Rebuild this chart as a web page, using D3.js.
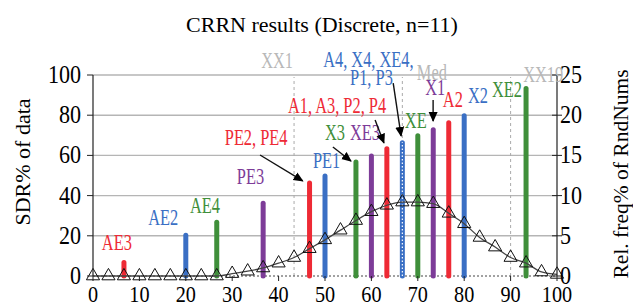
<!DOCTYPE html>
<html>
<head>
<meta charset="utf-8">
<script src="https://cdn.jsdelivr.net/npm/d3@7"></script>
<style>
  body { margin: 0; background: #fff; }
  text { font-family: "Liberation Serif", "Times New Roman", serif; }
</style>
</head>
<body>
<svg id="chart" width="633" height="306"></svg>
<script>
// bar positions (x, 0-100) and heights (SDR% of data)
const barX = [6.67, 20, 26.67, 36.67, 46.67, 50, 56.67, 60, 63.33, 66.67, 70, 73.33, 76.67, 80, 93.33];
const barValues = [8, 21.5, 28, 37.5, 47.5, 51, 58, 61, 64.5, 67.5, 71, 74, 77.5, 81, 94.5];
const barKinds = ["red", "blue", "green", "purple", "red", "blue", "green", "purple",
                  "red", "blueDot", "green", "purple", "red", "blue", "green"];

// relative frequency of random numbers (right axis), at x = i*100/30
const freqValues = [0, 0, 0, 0, 0, 0, 0, 0, 0, 0.3, 0.6, 1.0, 1.6, 2.3, 3.4, 4.5,
                    5.7, 6.9, 8.0, 8.8, 9.2, 9.2, 9.0, 7.8, 6.5, 4.8, 3.6, 2.3, 1.6, 0.5, 0.2];

const xTicks = [0, 10, 20, 30, 40, 50, 60, 70, 80, 90, 100];
const leftTicks = [0, 20, 40, 60, 80, 100];
const rightTicks = [0, 5, 10, 15, 20, 25];

// vertical reference lines
const refLines = [43.33, 66.67, 90];

// labels: text, colour, x, y (data units, left axis), anchor
const labels = [
    ["AE3", "red", 1.9, 12.9, "start"],
    ["AE2", "blue", 11.9, 25.4, "start"],
    ["AE4", "green", 20.9, 31.3, "start"],
    ["PE3", "purple", 31.0, 45.8, "start"],
    ["PE2, PE4", "red", 28.4, 65.2, "start"],
    ["PE1", "blue", 47.4, 53.7, "start"],
    ["X3", "green", 50.0, 67.7, "start"],
    ["XE3", "purple", 55.4, 67.7, "start"],
    ["A1, A3, P2, P4", "red", 42.0, 81.1, "start"],
    ["A4, X4, XE4,", "blue", 49.6, 104, "start"],
    ["P1, P3", "blue", 55.4, 95.0, "start"],
    ["XE", "green", 67.2, 73.6, "start"],
    ["X1", "purple", 71.6, 90.0, "start"],
    ["A2", "red", 75.4, 84.1, "start"],
    ["X2", "blue", 80.8, 86.1, "start"],
    ["XE2", "green", 86.0, 89.1, "start"],
    ["XX1", "gray", 43.1, 103.5, "end"],
    ["Med", "gray", 69.8, 97.5, "start"],
    ["XX19", "gray", 92.7, 96.5, "start"]
];

// arrows: x1, y1 -> x2, y2 (data units)
const arrows = [
    [36.0, 60.2, 45.2, 47.3],
    [51.7, 64.2, 55.6, 57.2],
    [60.8, 77.6, 62.7, 66.2],
    [64.7, 96.0, 66.4, 69.7],
    [73.3, 87.6, 73.3, 77.1]
];

const colors = {
    red: "#ee2a35", blue: "#3a6fc4", blueDot: "#3a6fc4",
    green: "#3f8f3a", purple: "#7d3c98", gray: "#b8b8b8"
};

const svg = d3.select("#chart");
const x = d3.scaleLinear().domain([0, 100]).range([93, 557]);
const yL = d3.scaleLinear().domain([0, 100]).range([276, 75]);
const yR = d3.scaleLinear().domain([0, 25]).range([276, 75]);

svg.append("defs").append("marker")
    .attr("id", "arrow")
    .attr("viewBox", "0 -5 10 10")
    .attr("refX", 9)
    .attr("markerWidth", 10)
    .attr("markerHeight", 10)
    .attr("markerUnits", "userSpaceOnUse")
    .attr("orient", "auto")
    .append("path")
    .attr("d", "M0,-4.5L10,0L0,4.5Z")
    .attr("fill", "#000");

// gridlines
svg.append("g").selectAll("line")
    .data(leftTicks.slice(1))
    .join("line")
    .attr("x1", x(0)).attr("x2", x(100))
    .attr("y1", d => yL(d)).attr("y2", d => yL(d))
    .attr("stroke", "#b5b5b5").attr("stroke-width", 1.4);

// dashed reference lines
svg.append("g").selectAll("line")
    .data(refLines)
    .join("line")
    .attr("x1", d => x(d)).attr("x2", d => x(d))
    .attr("y1", yL(0)).attr("y2", yL(99))
    .attr("stroke", "#aaa").attr("stroke-width", 1)
    .attr("stroke-dasharray", "3,3");

// baseline
svg.append("line")
    .attr("x1", x(0)).attr("x2", x(100))
    .attr("y1", yL(0)).attr("y2", yL(0))
    .attr("stroke", "#444").attr("stroke-width", 1)
    .attr("stroke-dasharray", "2,2");

// bars
const bars = barX.map((d, i) => ({x: d, v: barValues[i], kind: barKinds[i]}));
svg.append("g").selectAll("line")
    .data(bars)
    .join("line")
    .attr("x1", d => x(d.x)).attr("x2", d => x(d.x))
    .attr("y1", yL(0)).attr("y2", d => yL(d.v) + 2.5)
    .attr("stroke", d => colors[d.kind])
    .attr("stroke-width", 5)
    .attr("stroke-linecap", "round");

svg.append("g").selectAll("line")
    .data(bars.filter(d => d.kind === "blueDot"))
    .join("line")
    .attr("x1", d => x(d.x)).attr("x2", d => x(d.x))
    .attr("y1", yL(0)).attr("y2", d => yL(d.v) + 2)
    .attr("stroke", "#fff")
    .attr("stroke-width", 1.2)
    .attr("stroke-dasharray", "1.5,2");

// frequency curve
const freq = freqValues.map((v, i) => ({x: i * 100 / 30, v}));
svg.append("path")
    .datum(freq)
    .attr("fill", "none")
    .attr("stroke", "#444")
    .attr("stroke-width", 1.3)
    .attr("d", d3.line().x(d => x(d.x)).y(d => yR(d.v)).curve(d3.curveMonotoneX));

svg.append("g").selectAll("path")
    .data(freq)
    .join("path")
    .attr("transform", d => `translate(${x(d.x)},${yR(d.v)})`)
    .attr("d", d3.symbol(d3.symbolTriangle, 75))
    .attr("fill", "none")
    .attr("stroke", "#111")
    .attr("stroke-width", 1);

// axes
const axisColor = "#222";
svg.append("line")
    .attr("x1", x(0)).attr("x2", x(0)).attr("y1", yL(100)).attr("y2", yL(0))
    .attr("stroke", axisColor).attr("stroke-width", 1.2);
svg.append("line")
    .attr("x1", x(100)).attr("x2", x(100)).attr("y1", yR(25)).attr("y2", yR(0))
    .attr("stroke", axisColor).attr("stroke-width", 1.2);

svg.append("g").selectAll("line")
    .data(leftTicks)
    .join("line")
    .attr("x1", x(0) - 6).attr("x2", x(0))
    .attr("y1", d => yL(d)).attr("y2", d => yL(d))
    .attr("stroke", axisColor).attr("stroke-width", 1);
svg.append("g").selectAll("line")
    .data(rightTicks)
    .join("line")
    .attr("x1", x(100) - 5).attr("x2", x(100) + 5)
    .attr("y1", d => yR(d)).attr("y2", d => yR(d))
    .attr("stroke", axisColor).attr("stroke-width", 1);
svg.append("g").selectAll("line")
    .data(xTicks)
    .join("line")
    .attr("x1", d => x(d)).attr("x2", d => x(d))
    .attr("y1", yL(0)).attr("y2", yL(0) + 5)
    .attr("stroke", axisColor).attr("stroke-width", 1);

svg.append("g").selectAll("text")
    .data(leftTicks)
    .join("text")
    .attr("transform", d => `translate(${x(0) - 12},${yL(d) + 8}) scale(0.96,1.06)`)
    .attr("text-anchor", "end")
    .attr("font-size", 23)
    .text(d => d);
svg.append("g").selectAll("text")
    .data(rightTicks)
    .join("text")
    .attr("transform", d => `translate(${x(100) + 3},${yR(d) + 8}) scale(0.96,1.06)`)
    .attr("font-size", 23)
    .text(d => d);
svg.append("g").selectAll("text")
    .data(xTicks)
    .join("text")
    .attr("transform", d => `translate(${x(d)},302) scale(0.88,1.04)`)
    .attr("text-anchor", "middle")
    .attr("font-size", 23)
    .text(d => d);

// titles
svg.append("text")
    .attr("x", 322).attr("y", 32)
    .attr("text-anchor", "middle")
    .attr("font-size", 22)
    .text("CRRN results (Discrete, n=11)");
svg.append("text")
    .attr("transform", "translate(30,162) rotate(-90)")
    .attr("text-anchor", "middle")
    .attr("font-size", 22)
    .text("SDR% of data");
svg.append("text")
    .attr("transform", "translate(628,174) rotate(-90)")
    .attr("text-anchor", "middle")
    .attr("font-size", 21.5)
    .text("Rel. freq% of RndNums");

// annotation labels
svg.append("g").selectAll("text")
    .data(labels)
    .join("text")
    .attr("transform", d => `translate(${x(d[2])},${yL(d[3])}) scale(0.78,1.05)`)
    .attr("text-anchor", d => d[4])
    .attr("font-size", 21)
    .attr("fill", d => colors[d[1]])
    .text(d => d[0]);

// arrows
svg.append("g").selectAll("line")
    .data(arrows)
    .join("line")
    .attr("x1", d => x(d[0])).attr("y1", d => yL(d[1]))
    .attr("x2", d => x(d[2])).attr("y2", d => yL(d[3]))
    .attr("stroke", "#111").attr("stroke-width", 1.4)
    .attr("marker-end", "url(#arrow)");
</script>
</body>
</html>
